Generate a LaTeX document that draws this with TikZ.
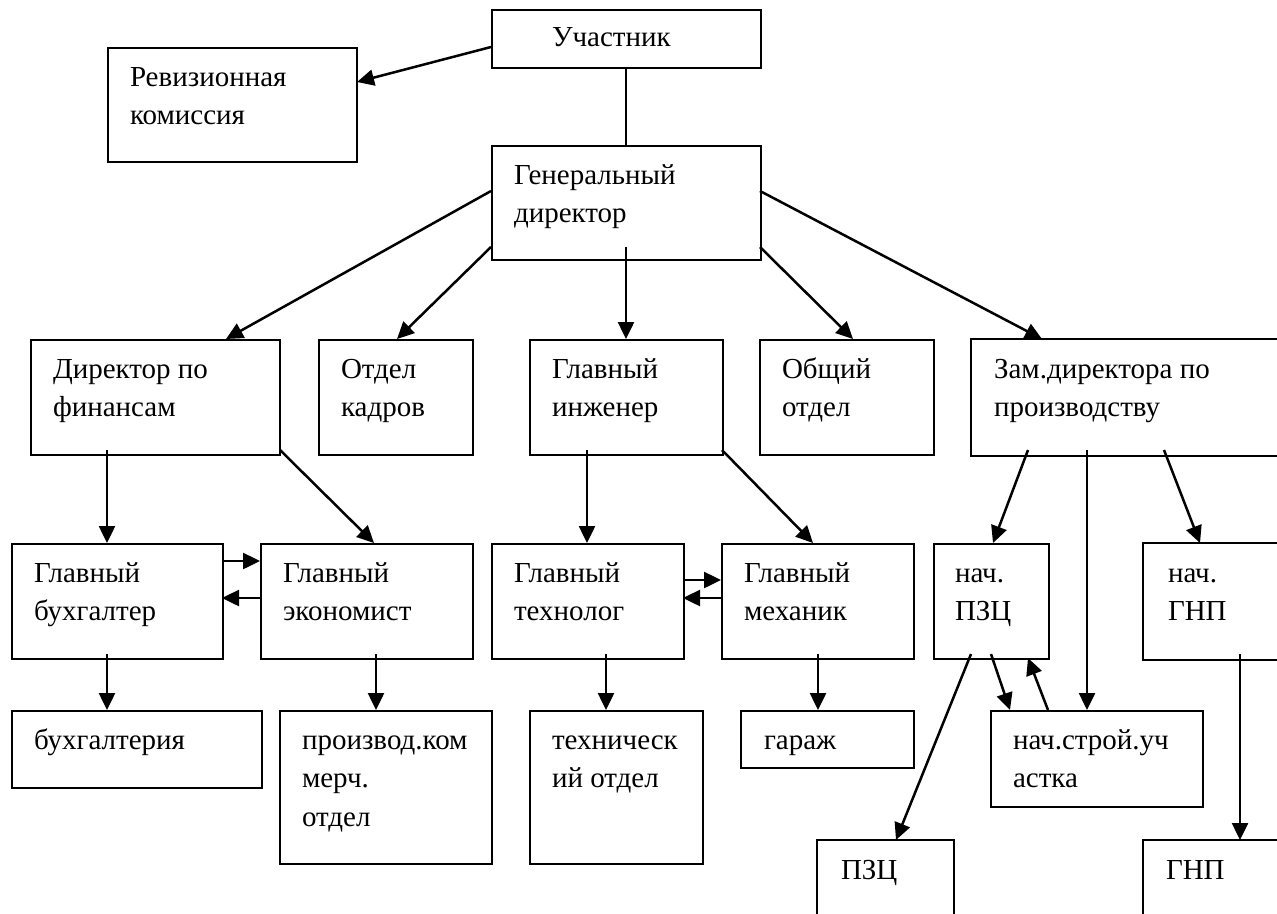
\documentclass[tikz,border=0pt]{standalone}
\usepackage{fontspec}
\setmainfont{Liberation Serif}
\usetikzlibrary{arrows.meta,calc}
\newcommand\bt[4][22]{\parbox[t][#3pt][t]{#2pt}{\raggedright\leftskip=#1pt\relax\rule{0pt}{38pt}\ignorespaces#4}}
\begin{document}
\begin{tikzpicture}[x=1pt,y=-1pt,
  box/.style={draw, line width=2pt, inner sep=0pt, anchor=north west, font=\fontsize{29}{38.7}\selectfont},
  cut/.style={box, draw=none},
  edge/.style={line width=2pt, line join=miter},
  arr/.style={line width=2.5pt, -{Triangle[length=17pt,width=16pt]}},
  ln/.style={line width=2.5pt}]
\useasboundingbox (0,0) rectangle (1277,913);
% row 0/1
\node[box] (uch) at (491,9) {\parbox[t][58pt][t]{269pt}{\raggedright\leftskip=60pt\relax\rule{0pt}{36pt}Участник}};
\node[box] (rev) at (107,47) {\bt{249}{114}{Ревизионная\\комиссия}};
\node[box] (gen) at (491,145) {\bt{269}{114}{Генеральный\\директор}};
% row 2
\node[box] (fin) at (30,339) {\bt{249}{115}{Директор по\\финансам}};
\node[box] (kadr) at (318,339) {\bt{154}{115}{Отдел\\кадров}};
\node[box] (ing) at (529,339) {\bt{193}{115}{Главный\\инженер}};
\node[box] (obsh) at (759,339) {\bt{174}{115}{Общий\\отдел}};
\node[cut] (zam) at (971,339) {\bt{420}{115}{Зам.директора по\\производству}};
\draw[edge] (zam.north east) -- (zam.north west) -- (zam.south west) -- (zam.south east);
% row 3
\node[box] (buh) at (11,543) {\bt{211}{115}{Главный\\бухгалтер}};
\node[box] (ekon) at (260,543) {\bt{212}{115}{Главный\\экономист}};
\node[box] (tehn) at (491,543) {\bt{192}{115}{Главный\\технолог}};
\node[box] (meh) at (721,543) {\bt{192}{115}{Главный\\механик}};
\node[box] (npzc) at (933,543) {\bt[21]{115}{115}{нач.\\ПЗЦ}};
\node[cut] (ngnp) at (1143,543) {\bt[24]{250}{115}{нач.\\ГНП}};
\draw[edge] (ngnp.north east) -- (ngnp.north west) -- (ngnp.south west) -- (ngnp.south east);
% row 4
\node[box] (buhg) at (11,710) {\bt{250}{77}{бухгалтерия}};
\node[box] (proizv) at (279,710) {\bt{212}{153}{производ.ком\\мерч.\\отдел}};
\node[box] (tehotd) at (529,710) {\bt{173}{153}{техническ\\ий отдел}};
\node[box] (garazh) at (740,710) {\bt[23]{173}{57}{гараж}};
\node[box] (nstroy) at (990,710) {\bt{212}{96}{нач.строй.уч\\астка}};
% row 5
\node[cut] (pzc) at (817,840) {\bt[23]{135}{150}{ПЗЦ}};
\draw[edge] (pzc.south west) -- (pzc.north west) -- (pzc.north east) -- (pzc.south east);
\node[cut] (gnp) at (1143,840) {\bt{250}{150}{ГНП}};
\draw[edge] (gnp.south west) -- (gnp.north west) -- (gnp.north east);
% connectors
\draw[arr] ($(uch.north west)+(0,38)$) -- ($(rev.north west)+(250,35)$);
\draw[ln] ($(uch.north west)+(135,58)$) -- ($(gen.north west)+(135,0)$);
\draw[arr] ($(gen.north west)+(0,46)$) -- ($(fin.north west)+(196,0)$);
\draw[arr] ($(gen.north west)+(0,102)$) -- ($(kadr.north west)+(79,0)$);
\draw[arr] ($(gen.north west)+(135,102)$) -- ($(ing.north west)+(97,0)$);
\draw[arr] ($(gen.north west)+(269,102)$) -- ($(obsh.north west)+(94,0)$);
\draw[arr] ($(gen.north west)+(269,46)$) -- ($(zam.north west)+(71,0)$);
\draw[arr] ($(fin.north west)+(77,111)$) -- ($(buh.north west)+(96,0)$);
\draw[arr] ($(fin.north west)+(250,111)$) -- ($(ekon.north west)+(114,0)$);
\draw[arr] ($(buh.north west)+(211,18)$) -- ($(ekon.north west)+(0,18)$);
\draw[arr] ($(ekon.north west)+(0,55)$) -- ($(buh.north west)+(211,55)$);
\draw[arr] ($(buh.north west)+(96,111)$) -- ($(buhg.north west)+(96,0)$);
\draw[arr] ($(ekon.north west)+(116,111)$) -- ($(proizv.north west)+(97,0)$);
\draw[arr] ($(ing.north west)+(58,111)$) -- ($(tehn.north west)+(96,0)$);
\draw[arr] ($(ing.north west)+(193,111)$) -- ($(meh.north west)+(92,0)$);
\draw[arr] ($(tehn.north west)+(192,37)$) -- ($(meh.north west)+(0,37)$);
\draw[arr] ($(meh.north west)+(0,55)$) -- ($(tehn.north west)+(192,55)$);
\draw[arr] ($(tehn.north west)+(115,111)$) -- ($(tehotd.north west)+(77,0)$);
\draw[arr] ($(meh.north west)+(97,111)$) -- ($(garazh.north west)+(78,0)$);
\draw[arr] ($(zam.north west)+(57,111)$) -- ($(npzc.north west)+(60,0)$);
\draw[arr] ($(zam.north west)+(116,111)$) -- ($(nstroy.north west)+(97,0)$);
\draw[arr] ($(zam.north west)+(193,111)$) -- ($(ngnp.north west)+(57,0)$);
\draw[arr] ($(npzc.north west)+(38,111)$) -- ($(pzc.north west)+(79,0)$);
\draw[arr] ($(npzc.north west)+(58,111)$) -- ($(nstroy.north west)+(20,0)$);
\draw[arr] ($(nstroy.north west)+(58,0)$) -- ($(npzc.north west)+(95,115)$);
\draw[arr] ($(ngnp.north west)+(97,111)$) -- ($(gnp.north west)+(97,0)$);
\end{tikzpicture}
\end{document}
